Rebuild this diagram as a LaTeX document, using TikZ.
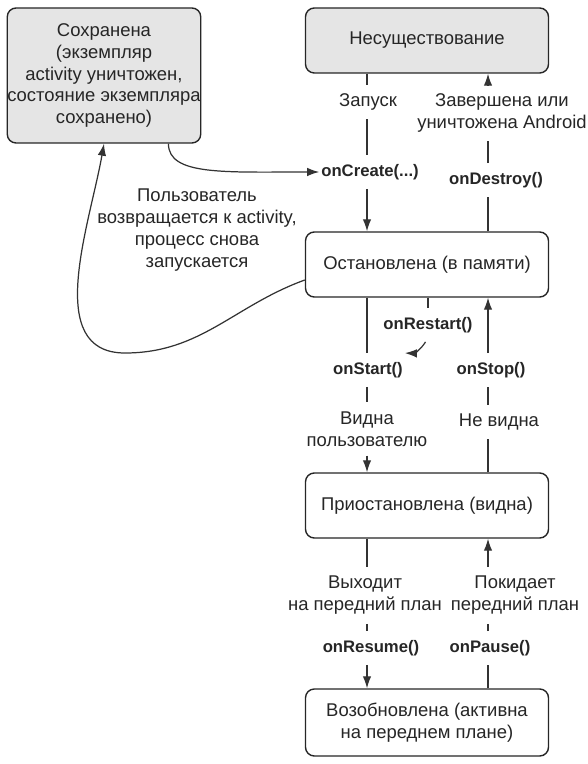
\documentclass[tikz,border=0pt]{standalone}
\usepackage{fontspec}
\setmainfont{Liberation Sans}
\usetikzlibrary{arrows.meta,positioning}

\begin{document}
\begin{tikzpicture}[
    every node/.style={font=\fontsize{10.5}{12.5}\selectfont, text=black!85},
    state/.style={draw=black!85, line width=0.8pt, rounded corners=5pt, minimum width=4.86cm, minimum height=1.3cm, align=center, fill=white},
    gone/.style={state, fill=black!10},
    lbl/.style={align=center, inner xsep=1pt, inner ysep=5pt},
    cb/.style={lbl, font=\fontsize{9.5}{11}\selectfont\bfseries},
    ln/.style={line width=0.7pt, black!80},
    arr/.style={ln, -{Latex[length=2.4mm,width=1.7mm]}}
  ]
    \useasboundingbox (0,0) rectangle (11.76,-15.28);
    \coordinate (colL) at (7.34,0);
    \coordinate (colR) at (9.76,0);
    \node[gone, minimum width=3.84cm, minimum height=2.7cm, inner xsep=0pt] (saved) at (2.08,-1.51)
      {Сохранена\\(экземпляр\\activity уничтожен,\\состояние экземпляра\\сохранено)};
    \node[gone] (nonexist) at (8.54,-0.81) {Несуществование};
    \node[state] (stopped) at (8.54,-5.29) {Остановлена (в памяти)};
    \node[state] (paused) at (8.54,-10.11) {Приостановлена (видна)};
    \node[state, minimum height=1.34cm] (resumed) at (8.54,-14.45) {Возобновлена (активна\\на переднем плане)};
    \node[lbl] (launch) at (7.36,-2.04) {Запуск};
    \node[lbl] (ended) at (10.04,-2.26) {Завершена или\\уничтожена Android};
    \node[cb] (create) at (7.40,-3.44) {onCreate(...)};
    \node[cb] (destroy) at (9.92,-3.60) {onDestroy()};
    \node[lbl] (returns) at (3.94,-4.60) {Пользователь\\возвращается к activity,\\процесс снова\\запускается};
    \node[cb] (restart) at (8.56,-6.50) {onRestart()};
    \node[cb] (start) at (7.36,-7.40) {onStart()};
    \node[cb] (stop) at (9.82,-7.40) {onStop()};
    \node[lbl] (visible) at (7.34,-8.58) {Видна\\пользователю};
    \node[lbl] (hidden) at (9.98,-8.44) {Не видна};
    \node[lbl] (front) at (7.30,-11.91) {Выходит\\на передний план};
    \node[lbl] (leaves) at (10.30,-11.91) {Покидает\\передний план};
    \node[cb] (resume) at (7.42,-12.96) {onResume()};
    \node[cb] (pause) at (9.80,-12.96) {onPause()};
    \draw[ln] (nonexist.south -| colL) -- (launch.north -| colL);
    \draw[ln] (launch.south -| colL) -- (create.north -| colL);
    \draw[arr] (create.south -| colL) -- (stopped.north -| colL);
    \draw[ln] (stopped.south -| colL) -- (start.north -| colL);
    \draw[ln] (start.south -| colL) -- (visible.north -| colL);
    \draw[arr] (visible.south -| colL) -- (paused.north -| colL);
    \draw[ln] (paused.south -| colL) -- (front.north -| colL);
    \draw[ln] (front.south -| colL) -- (resume.north -| colL);
    \draw[arr] (resume.south -| colL) -- (resumed.north -| colL);
    \draw[ln] (stopped.north -| colR) -- (destroy.south -| colR);
    \draw[ln] (destroy.north -| colR) -- (ended.south -| colR);
    \draw[arr] (ended.north -| colR) -- (nonexist.south -| colR);
    \draw[ln] (paused.north -| colR) -- (hidden.south -| colR);
    \draw[ln] (hidden.north -| colR) -- (stop.south -| colR);
    \draw[arr] (stop.north -| colR) -- (stopped.south -| colR);
    \draw[ln] (resumed.north -| colR) -- (pause.south -| colR);
    \draw[ln] (pause.north -| colR) -- (leaves.south -| colR);
    \draw[arr] (leaves.north -| colR) -- (paused.south -| colR);
    \draw[ln] (stopped.south -| restart) -- (restart.north);
    \draw[arr] ([xshift=-0.05cm]restart.south) to[bend left=30] (start.north east);
    \draw[arr] ([xshift=-0.66cm]saved.south east) .. controls +(0,-0.64) and +(-1.9,0) .. (create.west);
    \coordinate (loop) at (2.5,-7.06);
    \draw[arr] ([yshift=-0.31cm]stopped.west) to[out=200,in=0] (loop) to[out=180,in=-100] (saved.south);
  \end{tikzpicture}
\end{document}
